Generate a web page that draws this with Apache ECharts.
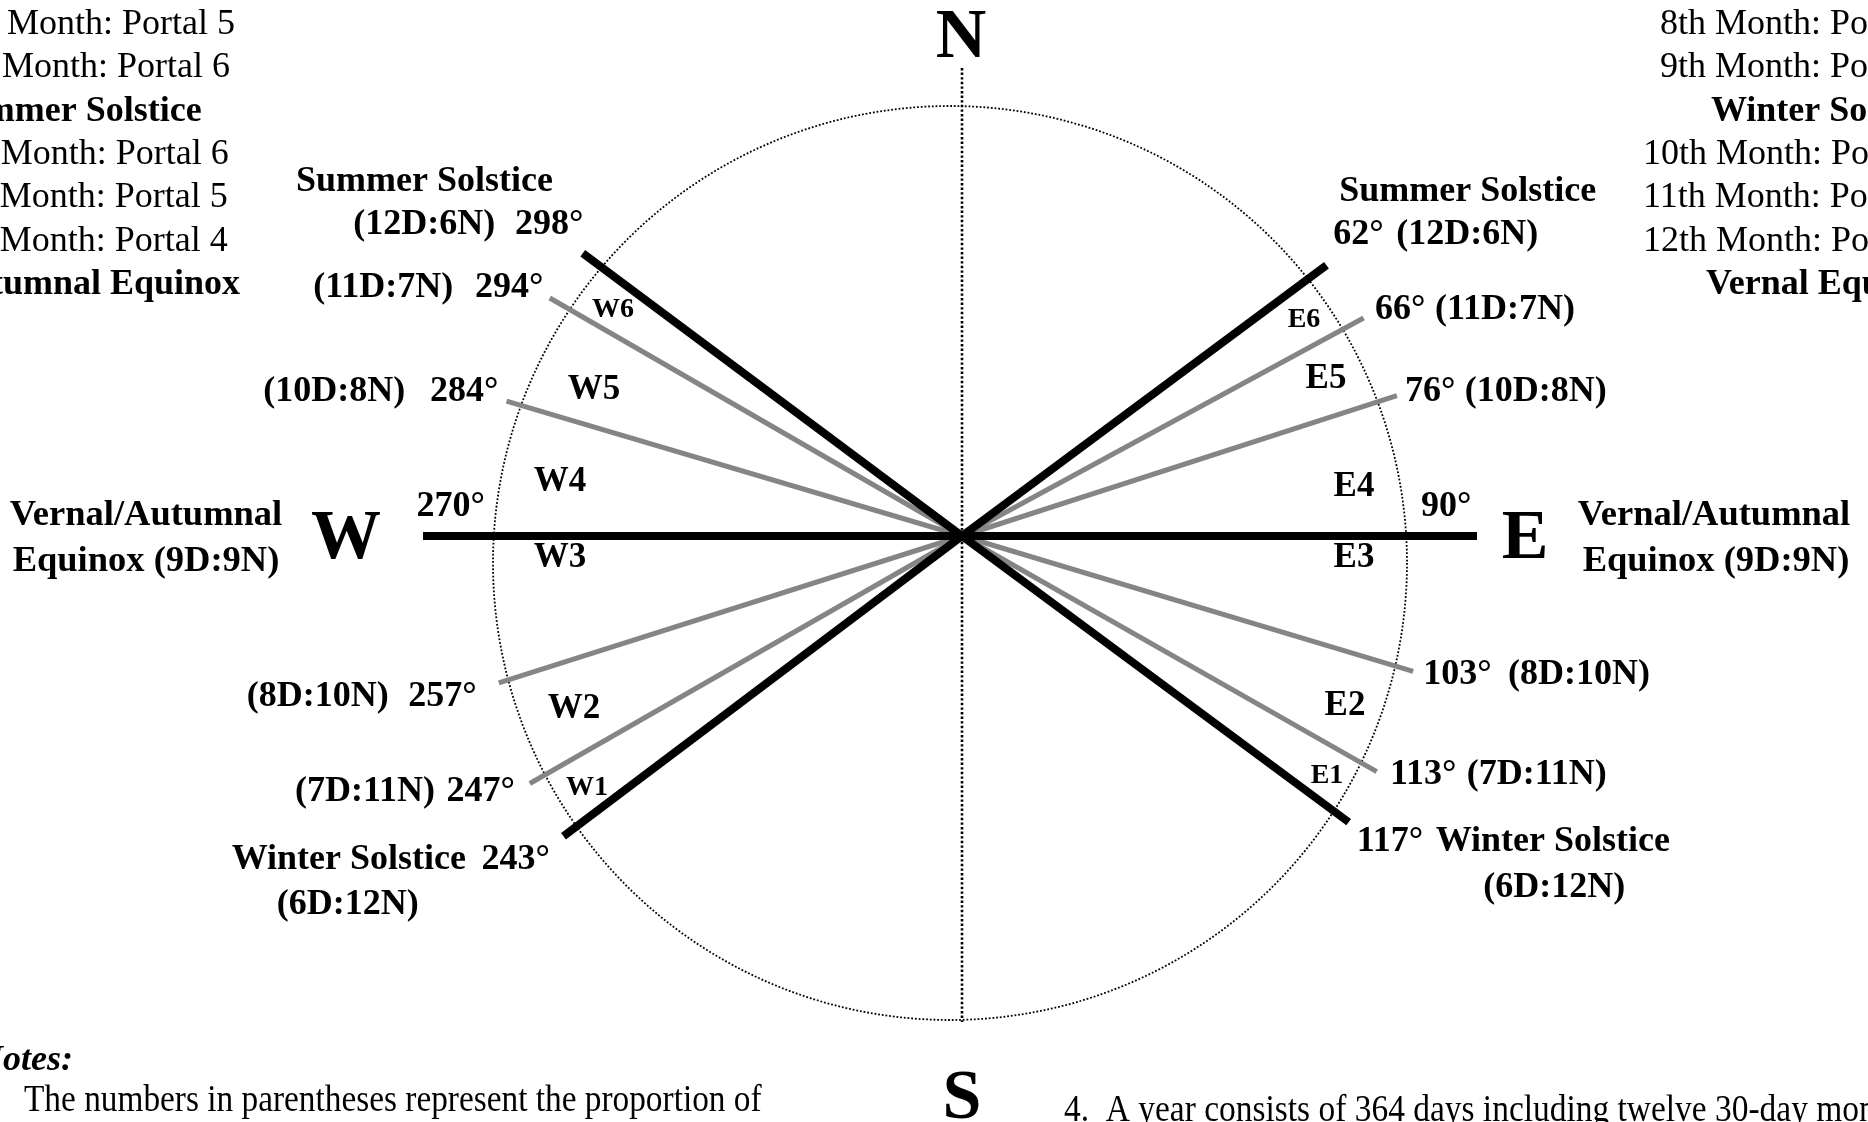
<!DOCTYPE html>
<html>
<head>
<meta charset="utf-8">
<script src="https://cdn.jsdelivr.net/npm/echarts@6/dist/echarts.min.js"></script>
<style>
html,body{margin:0;padding:0;background:#fff;}
#chart{width:1868px;height:1122px;}
</style>
</head>
<body>
<div id="chart"></div>
<script>
// ---------------- DATA ----------------
// sunrise / sunset bearings written on the rays (degrees)
const rayBearing = [62, 66, 76, 90, 103, 113, 117, 243, 247, 257, 270, 284, 294, 298];
// direction in which each ray is actually drawn in the figure (schematic, degrees from north)
const rayDrawnBearing = [53.4, 61.5, 72.1, 90, 106.7, 119.6, 126.5, 233.0, 240.2, 252.4, 270, 286.5, 300.0, 306.7];
// how far each ray reaches out from the centre
const rayReach = [454, 457, 457, 515, 471, 477, 481, 499, 498, 486, 539, 475, 476, 473];
// day : night proportion
const rayDayNight = ['12D:6N', '11D:7N', '10D:8N', '9D:9N', '8D:10N', '7D:11N', '6D:12N',
                     '6D:12N', '7D:11N', '8D:10N', '9D:9N', '10D:8N', '11D:7N', '12D:6N'];
// solstice / equinox rays (black) vs monthly portal rays (grey)
const raySeasonMarker = [true, false, false, true, false, false, true, true, false, false, true, false, false, true];

const meridianReach = [468, 486]; // north, south extent of the dotted N-S line

const monthListWest = ['2nd Month: Portal 5', '3rd Month: Portal 6', 'Summer Solstice', '4th Month: Portal 6',
                       '5th Month: Portal 5', '6th Month: Portal 4', 'Autumnal Equinox'];
const monthListEast = ['8th Month: Portal 2', '9th Month: Portal 1', 'Winter Solstice', '10th Month: Portal 1',
                       '11th Month: Portal 2', '12th Month: Portal 3', 'Vernal Equinox'];
const sectorWest = ['W6', 'W5', 'W4', 'W3', 'W2', 'W1'];
const sectorEast = ['E6', 'E5', 'E4', 'E3', 'E2', 'E1'];
const compass = ['N', 'E', 'S', 'W'];
const notesText = ['Notes:', 'The numbers in parentheses represent the proportion of',
                   '4.  A year consists of 364 days including twelve 30-day months'];

// ---------------- STYLE / LAYOUT ----------------
const SERIF = '"Liberation Serif", "Times New Roman", Times, serif';
const fB = s => 'bold ' + s + 'px ' + SERIF;
const fR = s => s + 'px ' + SERIF;
const DY = 3; // vertical text offset

function T(text, x, y, font, align, extra) {
  const el = {
    type: 'text', x: x, y: y + DY, silent: true, z: 10,
    style: {
      text: text, font: font, fill: '#000',
      textAlign: align || 'left', align: align || 'left',
      textVerticalAlign: 'middle', verticalAlign: 'middle'
    }
  };
  if (extra) Object.assign(el, extra);
  return el;
}
const idx = b => rayBearing.indexOf(b);
const deg = b => rayBearing[idx(b)] + '°';
const par = b => '(' + rayDayNight[idx(b)] + ')';

const graphics = [];
// side lists
const rowY = [21.7, 65, 108.3, 151.7, 195, 238.3, 281.7];
const westRight = [235, 230, 201.7, 228.7, 227.7, 227.7, 240];
const eastLeft = [1660, 1660, 1711, 1643, 1643, 1643, 1706];
monthListWest.forEach((s, i) => {
  const bold = i === 2 || i === 6;
  graphics.push(T(s, westRight[i], rowY[i], bold ? fB(36) : fR(36), 'right'));
});
monthListEast.forEach((s, i) => {
  const bold = i === 2 || i === 6;
  graphics.push(T(s, eastLeft[i], rowY[i], bold ? fB(36) : fR(36), 'left'));
});

// compass letters
const compassPos = {N: [961, 36], E: [1525, 537], S: [962, 1097], W: [346, 537]};
compass.forEach(c => graphics.push(T(c, compassPos[c][0], compassPos[c][1], fB(70), 'center')));

// equinox captions
graphics.push(T('Vernal/Autumnal', 146, 513, fB(36.5), 'center'));
graphics.push(T('Equinox (' + rayDayNight[idx(270)] + ')', 146, 558.5, fB(36.5), 'center'));
graphics.push(T('Vernal/Autumnal', 1714, 513, fB(36.5), 'center'));
graphics.push(T('Equinox (' + rayDayNight[idx(90)] + ')', 1716, 559, fB(36.5), 'center'));

// west ray captions
graphics.push(T('Summer Solstice', 296, 179, fB(36), 'left'));
graphics.push(T(par(298), 353.3, 221.7, fB(36), 'left'));
graphics.push(T(deg(298), 583.3, 221.7, fB(36), 'right'));
graphics.push(T(par(294), 313.3, 285, fB(36), 'left'));
graphics.push(T(deg(294), 543.3, 285, fB(36), 'right'));
graphics.push(T(par(284), 263.3, 388.3, fB(36), 'left'));
graphics.push(T(deg(284), 498.3, 388.3, fB(36), 'right'));
graphics.push(T(deg(270), 485, 504, fB(36), 'right'));
graphics.push(T(par(257), 246.7, 693.3, fB(36), 'left'));
graphics.push(T(deg(257), 476.7, 693.3, fB(36), 'right'));
graphics.push(T(par(247), 295, 788.3, fB(36), 'left'));
graphics.push(T(deg(247), 515, 788.3, fB(36), 'right'));
graphics.push(T('Winter Solstice', 231.7, 856.7, fB(36), 'left'));
graphics.push(T(deg(243), 550, 856.7, fB(36), 'right'));
graphics.push(T(par(243), 276.7, 901.7, fB(36), 'left'));

// east ray captions
graphics.push(T('Summer Solstice', 1339.3, 188.3, fB(36), 'left'));
graphics.push(T(deg(62), 1333.3, 231.7, fB(36), 'left'));
graphics.push(T(par(62), 1538.3, 231.7, fB(36), 'right'));
graphics.push(T(deg(66), 1375, 306.7, fB(36), 'left'));
graphics.push(T(par(66), 1575, 306.7, fB(36), 'right'));
graphics.push(T(deg(76), 1405, 388.3, fB(36), 'left'));
graphics.push(T(par(76), 1606.7, 388.3, fB(36), 'right'));
graphics.push(T(deg(90), 1421, 504, fB(36), 'left'));
graphics.push(T(deg(103), 1423.3, 671.7, fB(36), 'left'));
graphics.push(T(par(103), 1650, 671.7, fB(36), 'right'));
graphics.push(T(deg(113), 1390, 771.7, fB(36), 'left'));
graphics.push(T(par(113), 1606.7, 771.7, fB(36), 'right'));
graphics.push(T(deg(117), 1356.7, 838.3, fB(36), 'left'));
graphics.push(T('Winter Solstice', 1670, 838.3, fB(36), 'right'));
graphics.push(T(par(117), 1483.3, 885, fB(36), 'left'));

// sector labels
const westPos = [[613, 307, 28], [594, 387, 35], [560, 479, 35], [560, 555, 35], [574, 706, 35], [587, 785, 28]];
const eastPos = [[1304, 317, 28], [1326, 376, 35], [1354, 484, 35], [1354, 555, 35], [1345, 703, 35], [1327, 773, 28]];
sectorWest.forEach((s, i) => graphics.push(T(s, westPos[i][0], westPos[i][1], fB(westPos[i][2]), 'center')));
sectorEast.forEach((s, i) => graphics.push(T(s, eastPos[i][0], eastPos[i][1], fB(eastPos[i][2]), 'center')));

// notes
graphics.push(T(notesText[0], 73, 1058, 'italic ' + fB(36), 'right'));
graphics.push(T(notesText[1], 24, 1098, fR(38), 'left', {scaleX: 0.877}));
graphics.push(T(notesText[2], 1064, 1108, fR(38), 'left', {scaleX: 0.88}));

// ---------------- SERIES ----------------
const series = [];
// dotted north-south meridian
series.push({
  type: 'line', coordinateSystem: 'polar', polarIndex: 0, silent: true, symbol: 'none', z: 1,
  data: [[meridianReach[0], 0], [0, 0], [meridianReach[1], 180]],
  lineStyle: {color: '#000', width: 2.6, type: [2.4, 2.2]}
});
// rays
rayBearing.forEach((b, i) => {
  const black = raySeasonMarker[i];
  series.push({
    type: 'line', coordinateSystem: 'polar', polarIndex: 0, silent: true, symbol: 'none',
    z: black ? 4 : 3,
    data: [[0, rayDrawnBearing[i]], [rayReach[i], rayDrawnBearing[i]]],
    lineStyle: {color: black ? '#000' : '#858585', width: black ? 8 : 5, cap: 'butt'}
  });
});

const hiddenAxisParts = {
  axisLine: {show: false}, axisTick: {show: false}, axisLabel: {show: false},
  splitLine: {show: false}, splitArea: {show: false}
};

const option = {
  backgroundColor: '#fff',
  animation: false,
  polar: [
    {center: [962, 536], radius: 540},
    {center: [950, 563], radius: 457}
  ],
  angleAxis: [
    Object.assign({polarIndex: 0, type: 'value', min: 0, max: 360, startAngle: 90, clockwise: true}, hiddenAxisParts),
    Object.assign({polarIndex: 1, type: 'value', min: 0, max: 360, startAngle: 90, clockwise: true}, hiddenAxisParts,
      {axisLine: {show: true, lineStyle: {color: '#000', width: 1.8, type: [1.8, 1.9]}}})
  ],
  radiusAxis: [
    Object.assign({polarIndex: 0, type: 'value', min: 0, max: 540}, hiddenAxisParts),
    Object.assign({polarIndex: 1, type: 'value', min: 0, max: 457}, hiddenAxisParts)
  ],
  series: series,
  graphic: {elements: graphics}
};

const chart = echarts.init(document.getElementById('chart'), null, {renderer: 'canvas'});
chart.setOption(option);
</script>
</body>
</html>
